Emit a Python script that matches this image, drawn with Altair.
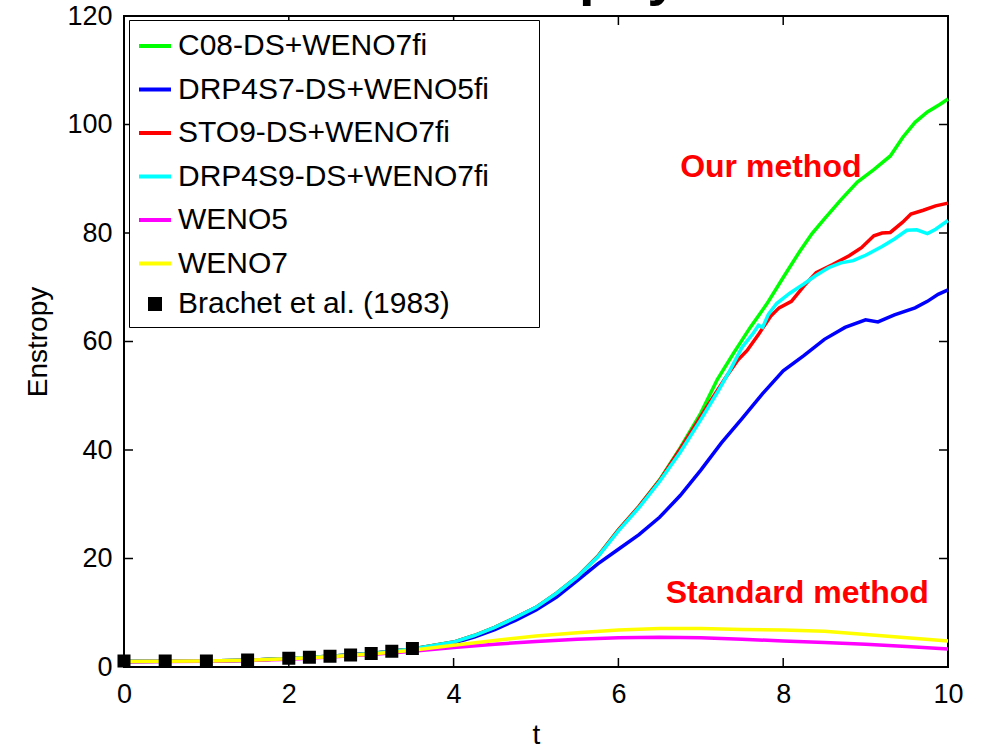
import altair as alt
import pandas as pd

FONT = "Liberation Sans"

# Series names, colours and legend symbols
SERIES = ["C08-DS+WENO7fi", "DRP4S7-DS+WENO5fi", "STO9-DS+WENO7fi",
          "DRP4S9-DS+WENO7fi", "WENO5", "WENO7", "Brachet et al. (1983)"]
COLORS = ["#00ff00", "#0000ff", "#ff0000", "#00ffff", "#ff00ff", "#ffff00", "#000000"]
LEGEND_SHAPES = ["stroke"] * 6 + ["square"]
LEGEND_SIZES = [1024] * 6 + [100]

# Enstrophy histories
c08_t = [0, 0.5, 1, 1.5, 2, 2.5, 3, 3.5, 4, 4.25, 4.5, 4.75, 5, 5.25, 5.5, 5.75, 6,
         6.25, 6.5, 6.75, 7, 7.2, 7.4, 7.6, 7.8, 8, 8.2, 8.35, 8.5, 8.7, 8.9, 9.1,
         9.3, 9.45, 9.6, 9.75, 9.9, 10]
c08_v = [1.0, 1.05, 1.1, 1.25, 1.55, 2.0, 2.5, 3.3, 4.6, 5.8, 7.3, 9.1, 11.0, 13.6,
         16.6, 20.4, 25.3, 29.6, 34.5, 40.4, 46.8, 53.0, 57.9, 62.6, 66.9, 71.8,
         76.6, 79.9, 82.6, 86.1, 89.4, 91.7, 94.2, 97.6, 100.4, 102.3, 103.7, 104.7]

drp4s7_t = [0, 0.5, 1, 1.5, 2, 2.5, 3, 3.5, 4, 4.25, 4.5, 4.75, 5, 5.25, 5.5, 5.75,
            6, 6.25, 6.5, 6.75, 7, 7.25, 7.5, 7.75, 8, 8.25, 8.5, 8.75, 9, 9.15,
            9.35, 9.6, 9.75, 9.88, 10]
drp4s7_v = [1.0, 1.05, 1.1, 1.25, 1.55, 2.0, 2.5, 3.3, 4.4, 5.5, 6.9, 8.6, 10.5,
            12.9, 15.9, 19.0, 21.7, 24.4, 27.6, 31.6, 36.3, 41.3, 45.8, 50.4, 54.6,
            57.4, 60.4, 62.6, 64.0, 63.6, 64.9, 66.2, 67.4, 68.7, 69.5]

sto9_t = [0, 0.5, 1, 1.5, 2, 2.5, 3, 3.5, 4, 4.25, 4.5, 4.75, 5, 5.25, 5.5, 5.75, 6,
          6.25, 6.5, 6.75, 7, 7.15, 7.3, 7.45, 7.56, 7.7, 7.85, 7.95, 8.1, 8.25,
          8.4, 8.6, 8.8, 8.95, 9.1, 9.2, 9.3, 9.45, 9.55, 9.7, 9.85, 10]
sto9_v = [1.0, 1.05, 1.1, 1.25, 1.55, 2.0, 2.5, 3.3, 4.6, 5.8, 7.3, 9.1, 11.0, 13.6,
          16.6, 20.4, 25.3, 29.6, 34.4, 40.2, 46.2, 49.8, 53.3, 56.6, 58.3, 61.3,
          64.7, 66.2, 67.4, 70.2, 72.7, 74.2, 75.8, 77.3, 79.5, 80.0, 80.1, 82.0,
          83.5, 84.2, 85.0, 85.5]

drp4s9_t = [0, 0.5, 1, 1.5, 2, 2.5, 3, 3.5, 4, 4.25, 4.5, 4.75, 5, 5.25, 5.5, 5.75,
            6, 6.25, 6.5, 6.75, 7, 7.2, 7.35, 7.5, 7.64, 7.7, 7.75, 7.82, 7.92,
            8.08, 8.25, 8.4, 8.55, 8.7, 8.85, 9.0, 9.2, 9.35, 9.5, 9.62, 9.75,
            9.85, 10]
drp4s9_v = [1.0, 1.05, 1.1, 1.25, 1.55, 2.0, 2.5, 3.3, 4.6, 5.8, 7.3, 9.1, 11.0,
            13.6, 16.6, 20.3, 25.1, 29.4, 34.2, 39.6, 45.6, 50.6, 54.6, 58.9, 61.6,
            63.0, 62.6, 65.0, 67.0, 68.9, 70.6, 72.2, 73.6, 74.5, 74.9, 75.9, 77.5,
            78.9, 80.5, 80.6, 79.9, 80.7, 82.3]

weno5_t = [0, 0.5, 1, 1.5, 2, 2.5, 3, 3.5, 4, 4.5, 5, 5.5, 6, 6.5, 7, 7.5, 8, 8.5,
           9, 9.5, 10]
weno5_v = [0.95, 1.0, 1.05, 1.2, 1.45, 1.85, 2.3, 2.9, 3.6, 4.2, 4.7, 5.1, 5.4,
           5.5, 5.4, 5.1, 4.8, 4.5, 4.2, 3.8, 3.3]

weno7_t = [0, 0.5, 1, 1.5, 2, 2.5, 3, 3.5, 4, 4.5, 5, 5.5, 6, 6.5, 7, 7.5, 8, 8.5,
           9, 9.5, 10]
weno7_v = [1.0, 1.05, 1.1, 1.25, 1.5, 1.9, 2.4, 3.1, 4.0, 4.9, 5.7, 6.3, 6.8, 7.1,
           7.1, 6.9, 6.8, 6.6, 6.0, 5.4, 4.8]

brachet_t = [0, 0.5, 1, 1.5, 2, 2.25, 2.5, 2.75, 3, 3.25, 3.5]
brachet_v = [1.1, 1.1, 1.1, 1.3, 1.6, 1.8, 2.0, 2.2, 2.5, 2.9, 3.4]

# Axis ticks
x_ticks = [0, 2, 4, 6, 8, 10]
y_ticks = [0, 20, 40, 60, 80, 100, 120]
x_inner_ticks = [2, 4, 6, 8]
y_inner_ticks = [20, 40, 60, 80, 100]

# Annotations
note_text = ["Our method", "Standard method"]
note_t = [7.85, 8.17]
note_v = [90.3, 11.8]

W, H = 824, 651
TICK = 9

curves = [
    (SERIES[0], c08_t, c08_v),
    (SERIES[1], drp4s7_t, drp4s7_v),
    (SERIES[2], sto9_t, sto9_v),
    (SERIES[3], drp4s9_t, drp4s9_v),
    (SERIES[4], weno5_t, weno5_v),
    (SERIES[5], weno7_t, weno7_v),
]
lines_df = pd.DataFrame(
    [{"series": s, "t": t, "value": v} for s, ts, vs in curves for t, v in zip(ts, vs)]
)
brachet_df = pd.DataFrame({"series": SERIES[6], "t": brachet_t, "value": brachet_v})
notes_df = pd.DataFrame({"note": note_text, "t": note_t, "value": note_v})
xt_df = pd.DataFrame({"t": x_inner_ticks})
yt_df = pd.DataFrame({"value": y_inner_ticks})

x_scale = alt.Scale(domain=[0, 10], nice=False, zero=False)
y_scale = alt.Scale(domain=[0, 120], nice=False, zero=False)

x_axis = alt.Axis(values=x_ticks, format="d", title="t", labelPadding=14,
                  labelFlush=False, labelOverlap=False,
                  titleY=76, titleBaseline="alphabetic")
y_axis = alt.Axis(values=y_ticks, format="d", title="Enstropy", labelPadding=12,
                  labelFlush=False, labelOverlap=False,
                  titleX=-78, titleBaseline="alphabetic")

X = alt.X("t:Q", scale=x_scale, axis=x_axis)
Y = alt.Y("value:Q", scale=y_scale, axis=y_axis)

# trailing blank space keeps the legend box wider than its longest label
legend = alt.Legend(
    title=None, orient="none", legendX=5, legendY=4,
    labelFont=FONT, labelFontSize=30, labelColor="black", labelLimit=0,
    labelExpr="datum.label + '\u00a0\u00a0\u00a0\u00a0\u00a0\u200b'",
    labelOffset=5, rowPadding=10.5, padding=8,
    symbolStrokeWidth=4, strokeColor="black", fillColor="white",
)

stroke_enc = alt.Stroke("series:N", scale=alt.Scale(domain=SERIES, range=COLORS),
                        legend=legend)

lines = alt.Chart(lines_df).mark_line(strokeWidth=3.5).encode(
    x=X, y=Y, stroke=stroke_enc
)

points = alt.Chart(brachet_df).mark_point(filled=True, strokeWidth=3, opacity=1).encode(
    x=X, y=Y,
    stroke=stroke_enc,
    fill=alt.Fill("series:N", scale=alt.Scale(domain=SERIES, range=COLORS), legend=legend),
    shape=alt.Shape("series:N", scale=alt.Scale(domain=SERIES, range=LEGEND_SHAPES),
                    legend=legend),
    size=alt.Size("series:N",
                  scale=alt.Scale(type="ordinal", domain=SERIES, range=LEGEND_SIZES),
                  legend=legend),
)

tick_style = dict(color="black", strokeWidth=1.5)
bottom_ticks = alt.Chart(xt_df).mark_rule(**tick_style).encode(
    x=X, y=alt.value(H), y2=alt.value(H - TICK))
top_ticks = alt.Chart(xt_df).mark_rule(**tick_style).encode(
    x=X, y=alt.value(0), y2=alt.value(TICK))
left_ticks = alt.Chart(yt_df).mark_rule(**tick_style).encode(
    y=Y, x=alt.value(0), x2=alt.value(TICK))
right_ticks = alt.Chart(yt_df).mark_rule(**tick_style).encode(
    y=Y, x=alt.value(W), x2=alt.value(W - TICK))

notes = alt.Chart(notes_df).mark_text(
    font=FONT, fontWeight="bold", fontSize=32, color="#ff0000",
    align="center", baseline="alphabetic",
).encode(x=X, y=Y, text="note:N")

heading = alt.Chart(pd.DataFrame({"label": ["Enstrophy"]})).mark_text(
    font=FONT, fontWeight="bold", fontSize=56, color="black",
    align="center", baseline="alphabetic",
).encode(x=alt.value(W / 2 + 4), y=alt.value(-22), text="label:N")

chart = alt.layer(
    lines, points, bottom_ticks, top_ticks, left_ticks, right_ticks, notes, heading
).properties(
    width=W, height=H,
    autosize=alt.AutoSizeParams(type="none"),
    padding={"left": 124, "top": 16, "right": 36, "bottom": 79},
).configure_view(
    stroke="black", strokeWidth=2
).configure_axis(
    labelFont=FONT, labelFontSize=27, labelColor="black",
    titleFont=FONT, titleFontSize=28, titleFontWeight="normal", titleColor="black",
    domain=False, ticks=False, grid=False,
)

chart.save("out.html", embed_options={"renderer": "svg", "actions": False})
